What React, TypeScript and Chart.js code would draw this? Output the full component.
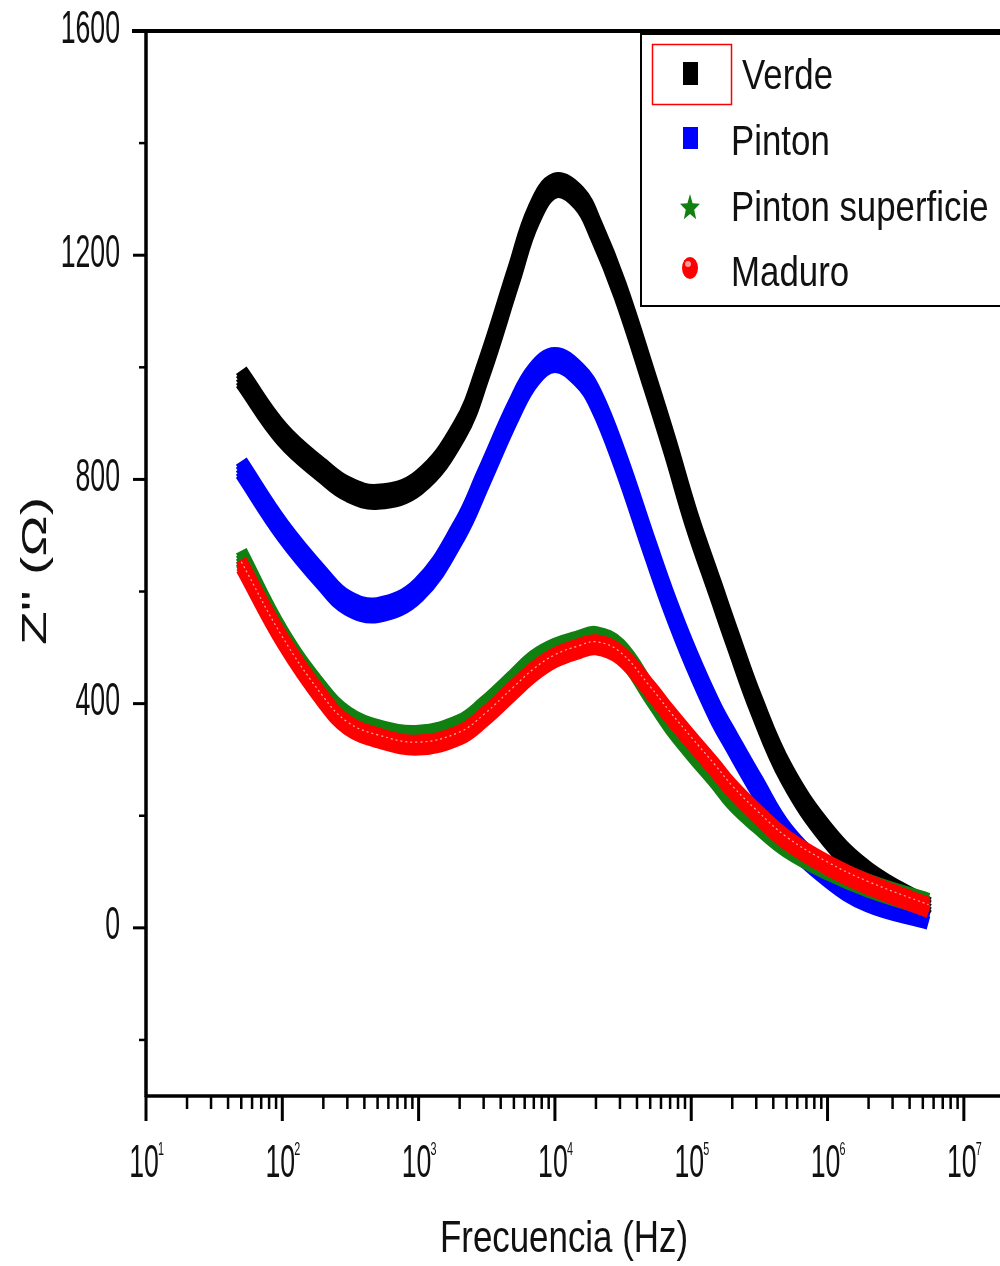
import React, { useEffect, useRef } from "react";
import { Chart, registerables } from "chart.js";

Chart.register(...registerables);

// ---- data ----
const freqs = [50, 100, 200, 300, 500, 1e3, 2e3, 3e3, 5e3, 7e3, 1e4, 1.5e4, 2e4, 3e4, 5e4, 7e4, 1e5, 1.5e5, 2e5, 3e5, 5e5, 1e6, 2e6, 5.5e6];
const verde = [983, 880, 814, 783, 769, 794, 888, 996, 1165, 1272, 1324, 1302, 1245, 1138, 972, 858, 730, 605, 517, 398, 275, 166, 95, 32];
const pinton = [821, 710, 621, 580, 567, 603, 710, 803, 924, 987, 1013, 987, 942, 835, 676, 575, 480, 385, 330, 255, 166, 95, 50, 20];
const pintonSup = [662, 521, 417, 375, 351, 341, 360, 392, 442, 475, 496, 510, 517, 496, 418, 365, 318, 268, 230, 190, 146, 106, 75, 41];
const maduro = [648, 514, 407, 362, 339, 326, 344, 375, 425, 457, 482, 498, 505, 487, 425, 380, 335, 285, 248, 205, 157, 112, 77, 36];

const seriesNames = ["Verde", "Pinton", "Pinton superficie", "Maduro"];
const yMajorTicks = [0, 400, 800, 1200, 1600];
const yMinorTicks = [-200, 200, 600, 1000, 1400];
const xDecades = [1, 2, 3, 4, 5, 6, 7];
const xTitle = "Frecuencia (Hz)";
const yTitle = "Z'' (\u03A9)";

const FONT = '"Liberation Sans", Arial, sans-serif';

function drawText(ctx: CanvasRenderingContext2D, text: string, x: number, y: number, size: number, sx: number, align: CanvasTextAlign) {
  ctx.save();
  ctx.translate(x, y);
  ctx.scale(sx, 1);
  ctx.font = `${size}px ${FONT}`;
  ctx.textAlign = align;
  ctx.textBaseline = "alphabetic";
  ctx.fillStyle = "#111";
  ctx.fillText(text, 0, 0);
  ctx.restore();
}

const thickPlugin = {
  id: "thick",
  beforeDatasetDraw(chart: any, args: any) {
    const ds = chart.data.datasets[args.index];
    const offs: number[] = ds.thickOffsets || [];
    const ctx = chart.ctx;
    const a = chart.chartArea;
    ctx.save();
    ctx.beginPath();
    ctx.rect(a.left, a.top, a.right - a.left, a.bottom - a.top);
    ctx.clip();
    for (const o of offs) {
      ctx.save();
      ctx.translate(0, o);
      args.meta.dataset.draw(ctx, a);
      ctx.restore();
    }
    ctx.restore();
  },
  afterDatasetDraw(chart: any, args: any) {
    const ds = chart.data.datasets[args.index];
    if (!ds.sheen) return;
    const ctx = chart.ctx;
    const a = chart.chartArea;
    const pts = args.meta.data;
    ctx.save();
    ctx.beginPath();
    ctx.rect(a.left, a.top, a.right - a.left, a.bottom - a.top);
    ctx.clip();
    ctx.strokeStyle = ds.sheen;
    ctx.lineWidth = 1.2;
    ctx.setLineDash([2, 3]);
    ctx.beginPath();
    for (let i = 0; i < pts.length; i++) {
      const p = pts[i];
      if (i === 0) ctx.moveTo(p.x, p.y - 3);
      else {
        const q = pts[i - 1];
        ctx.bezierCurveTo(q.cp2x, q.cp2y - 3, p.cp1x, p.cp1y - 3, p.x, p.y - 3);
      }
    }
    ctx.stroke();
    ctx.restore();
  },
};

function star(ctx: CanvasRenderingContext2D, cx: number, cy: number, r: number) {
  ctx.beginPath();
  for (let i = 0; i < 10; i++) {
    const rr = i % 2 === 0 ? r : r * 0.42;
    const ang = -Math.PI / 2 + (i * Math.PI) / 5;
    const px = cx + rr * Math.cos(ang) * 0.75;
    const py = cy + rr * Math.sin(ang);
    if (i === 0) ctx.moveTo(px, py);
    else ctx.lineTo(px, py);
  }
  ctx.closePath();
  ctx.fill();
}

const framePlugin = {
  id: "frame",
  afterDraw(chart: any) {
    const ctx: CanvasRenderingContext2D = chart.ctx;
    const a = chart.chartArea;
    const xs = chart.scales.x;
    const ys = chart.scales.y;
    ctx.save();
    ctx.strokeStyle = "#000";
    ctx.lineCap = "butt";
    // frame
    ctx.lineWidth = 4;
    ctx.beginPath();
    ctx.moveTo(a.left - 14, a.top);
    ctx.lineTo(chart.width, a.top);
    ctx.stroke();
    ctx.lineWidth = 3.5;
    ctx.beginPath();
    ctx.moveTo(a.left, a.top);
    ctx.lineTo(a.left, a.bottom + 1);
    ctx.moveTo(a.left - 1, a.bottom);
    ctx.lineTo(chart.width, a.bottom);
    ctx.moveTo(a.right, a.top);
    ctx.lineTo(a.right, a.bottom);
    ctx.stroke();

    // y ticks
    ctx.lineWidth = 3;
    for (const v of yMajorTicks) {
      const y = ys.getPixelForValue(v);
      ctx.beginPath();
      ctx.moveTo(a.left - 13, y);
      ctx.lineTo(a.left, y);
      ctx.stroke();
      drawText(ctx, String(v), a.left - 26, y + 11.5, 46, 0.58, "right");
    }
    ctx.lineWidth = 2.5;
    for (const v of yMinorTicks) {
      const y = ys.getPixelForValue(v);
      ctx.beginPath();
      ctx.moveTo(a.left - 7, y);
      ctx.lineTo(a.left, y);
      ctx.stroke();
    }
    // x ticks
    for (const d of xDecades) {
      const x = xs.getPixelForValue(Math.pow(10, d));
      ctx.lineWidth = 3;
      ctx.beginPath();
      ctx.moveTo(x, a.bottom);
      ctx.lineTo(x, a.bottom + 25);
      ctx.stroke();
      ctx.lineWidth = 2.5;
      for (let m = 2; m <= 9; m++) {
        const xm = xs.getPixelForValue(m * Math.pow(10, d));
        if (xm > chart.width) continue;
        ctx.beginPath();
        ctx.moveTo(xm, a.bottom);
        ctx.lineTo(xm, a.bottom + 13);
        ctx.stroke();
      }
      drawText(ctx, "10", x - 2, 1177, 46, 0.58, "center");
      drawText(ctx, String(d), x + 12, 1155, 18, 0.6, "left");
    }
    // x title
    drawText(ctx, xTitle, 564, 1252, 45, 0.775, "center");
    // y title (rotated)
    ctx.save();
    ctx.font = `46px ${FONT}`;
    const w = ctx.measureText(yTitle).width;
    ctx.translate(46, 571);
    ctx.rotate(-Math.PI / 2);
    ctx.scale(148 / w, 0.78);
    ctx.textAlign = "center";
    ctx.textBaseline = "alphabetic";
    ctx.fillStyle = "#111";
    ctx.fillText(yTitle, 0, 0);
    ctx.restore();

    // legend
    ctx.fillStyle = "#fff";
    ctx.fillRect(641, 34, 500, 272);
    ctx.lineWidth = 2;
    ctx.strokeStyle = "#000";
    ctx.strokeRect(641, 34, 500, 272);
    // red highlight box around first marker
    ctx.strokeStyle = "#ff0000";
    ctx.lineWidth = 1.5;
    ctx.strokeRect(652.5, 44.5, 79, 60);
    // markers
    ctx.fillStyle = "#000";
    ctx.fillRect(683, 62, 15, 23);
    ctx.fillStyle = "#0000ff";
    ctx.fillRect(683, 127, 15, 22);
    ctx.fillStyle = "#118011";
    star(ctx, 690, 208, 14);
    ctx.fillStyle = "#ff0000";
    ctx.beginPath();
    ctx.ellipse(690, 268, 8, 11, 0, 0, Math.PI * 2);
    ctx.fill();
    ctx.fillStyle = "rgba(255,255,255,0.6)";
    ctx.beginPath();
    ctx.ellipse(688, 264, 3, 3, 0, 0, Math.PI * 2);
    ctx.fill();
    drawText(ctx, seriesNames[0], 742, 89, 43, 0.81, "left");
    drawText(ctx, seriesNames[1], 731, 155, 43, 0.81, "left");
    drawText(ctx, seriesNames[2], 731, 221, 43, 0.81, "left");
    drawText(ctx, seriesNames[3], 731, 286, 43, 0.81, "left");
    ctx.restore();
  },
};

export default function App() {
  const ref = useRef<HTMLCanvasElement | null>(null);
  useEffect(() => {
    if (!ref.current) return;
    const mk = (vals: number[]) => freqs.map((f, i) => ({ x: f, y: vals[i] }));
    const chart = new Chart(ref.current, {
      type: "line",
      data: {
        datasets: [
          { label: seriesNames[0], data: mk(verde), borderColor: "#000000", borderWidth: 13, order: 4, thickOffsets: [-6.5, -3.5, 3.5, 6.5] } as any,
          { label: seriesNames[1], data: mk(pinton), borderColor: "#0000ff", borderWidth: 13, order: 3, thickOffsets: [-6.5, -3.5, 3.5, 6.5] } as any,
          { label: seriesNames[2], data: mk(pintonSup), borderColor: "#118011", borderWidth: 12, order: 2, thickOffsets: [-6, -3, 3, 6] } as any,
          { label: seriesNames[3], data: mk(maduro), borderColor: "#ff0000", borderWidth: 11, order: 1, thickOffsets: [-5, -2.5, 2.5, 5], sheen: "rgba(255,190,190,0.9)" } as any,
        ],
      },
      options: {
        responsive: false,
        animation: false,
        elements: {
          point: { radius: 0, hoverRadius: 0 },
          line: { tension: 0.4, borderCapStyle: "butt", borderJoinStyle: "round", fill: false },
        },
        layout: { padding: { left: 146, top: 31, right: 68, bottom: 170 } },
        scales: {
          x: { type: "logarithmic", min: 10, max: Math.pow(10, 7.5), display: false },
          y: { type: "linear", min: -300, max: 1600, display: false },
        },
        plugins: { legend: { display: false }, tooltip: { enabled: false } },
      },
      plugins: [thickPlugin, framePlugin],
    });
    return () => chart.destroy();
  }, []);
  return (
    <div style={{ position: "absolute", left: 0, top: 0, width: 1000, height: 1266, overflow: "hidden", background: "#fff" }}>
      <canvas ref={ref} width={1100} height={1266} style={{ display: "block" }} />
    </div>
  );
}
